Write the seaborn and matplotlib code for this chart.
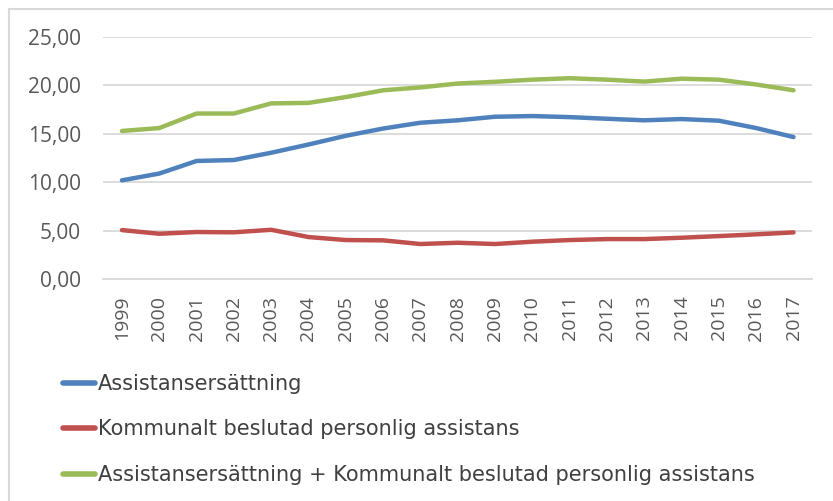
import matplotlib
matplotlib.use("Agg")
import matplotlib.pyplot as plt
import matplotlib.ticker as mticker
import seaborn as sns
import pandas as pd

years = list(range(1999, 2018))
assistansersattning = [10.2, 10.9, 12.2, 12.3, 13.05, 13.9, 14.8, 15.55, 16.15, 16.4,
                       16.77, 16.84, 16.73, 16.56, 16.4, 16.53, 16.36, 15.6, 14.67]
kommunalt = [5.06, 4.68, 4.86, 4.83, 5.09, 4.34, 4.03, 4.0, 3.62, 3.75,
             3.62, 3.86, 4.03, 4.13, 4.13, 4.27, 4.44, 4.62, 4.82]
summa = [15.3, 15.6, 17.1, 17.1, 18.15, 18.2, 18.8, 19.5, 19.8, 20.2,
         20.38, 20.6, 20.75, 20.6, 20.4, 20.7, 20.6, 20.1, 19.5]

serier = ["Assistansersättning",
          "Kommunalt beslutad personlig assistans",
          "Assistansersättning + Kommunalt beslutad personlig assistans"]
farger = ["#4F81BD", "#C0504D", "#9BBB59"]

df = pd.DataFrame({
    "pos": list(range(len(years))) * 3,
    "varde": assistansersattning + kommunalt + summa,
    "serie": [serier[0]] * len(years) + [serier[1]] * len(years) + [serier[2]] * len(years),
})

sns.set_theme(style="white")
plt.rcParams["font.family"] = ["Open Sans", "DejaVu Sans"]
textfarg = "#595959"

fig = plt.figure(figsize=(8.33, 5.01), dpi=100)
ax = fig.add_axes([0.124, 0.443, 0.851, 0.483])

sns.lineplot(data=df, x="pos", y="varde", hue="serie", palette=farger,
             linewidth=3.2, ax=ax, legend=True, solid_capstyle="round")

ax.set_xlim(-0.5, len(years) - 0.5)
ax.set_ylim(0, 25)
ax.set_yticks([0, 5, 10, 15, 20, 25])
ax.yaxis.set_major_formatter(mticker.FuncFormatter(lambda v, p: f"{v:.2f}".replace(".", ",")))
ax.set_xticks(range(len(years)))
ax.set_xticklabels([str(y) for y in years], rotation=90)
ax.tick_params(axis="x", labelsize=14, colors=textfarg, length=0, pad=12)
ax.tick_params(axis="y", labelsize=15, colors=textfarg, length=0, pad=16)
ax.grid(axis="y", color="#D9D9D9", linewidth=1.3)
ax.grid(axis="x", visible=False)
for s in ["top", "right", "left"]:
    ax.spines[s].set_visible(False)
ax.spines["bottom"].set_color("#D9D9D9")
ax.spines["bottom"].set_linewidth(1.3)
ax.set_xlabel("")
ax.set_ylabel("")

# legend below the plot, one entry per row
handles, labels = ax.get_legend_handles_labels()
ax.get_legend().remove()
leg = fig.legend(handles, labels, loc="upper left", bbox_to_anchor=(0.066, 0.27),
                 frameon=False, handlelength=1.5, handletextpad=0.15,
                 labelspacing=1.22, borderaxespad=0,
                 prop={"family": ["DejaVu Sans"], "size": 15})
for t in leg.get_texts():
    t.set_color("#404040")
for h in leg.get_lines():
    h.set_linewidth(4)

# chart frame: only top and left edges are visible in the crop
kant = dict(transform=fig.transFigure, color="#D9D9D9", linewidth=1.5)
fig.add_artist(plt.Line2D([0.011, 1.0], [0.982, 0.982], **kant))
fig.add_artist(plt.Line2D([0.011, 0.011], [0.0, 0.982], **kant))

fig.savefig("out.png", dpi=100, facecolor="white")
